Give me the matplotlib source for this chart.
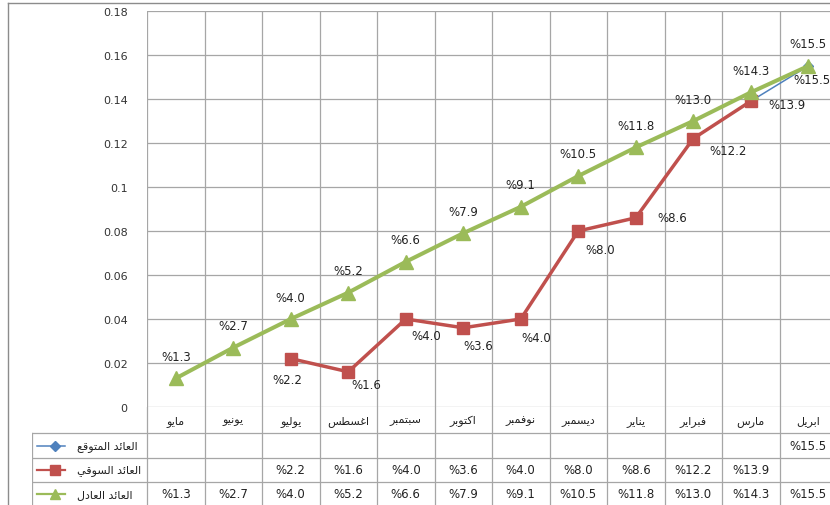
import numpy as np
import matplotlib
matplotlib.use('Agg')
import matplotlib.pyplot as plt
from matplotlib.lines import Line2D

plt.rcParams['font.family'] = ['DejaVu Sans']

# data
months = ['مايو', 'يونيو', 'يوليو', 'اغسطس', 'سبتمبر', 'اكتوبر',
          'نوفمبر', 'ديسمبر', 'يناير', 'فبراير', 'مارس', 'ابريل']
series_names = ['العائد المتوقع', 'العائد السوقي', 'العائد العادل']
expected = [np.nan] * 10 + [0.139, 0.155]
market = [np.nan, np.nan, 0.022, 0.016, 0.040, 0.036, 0.040, 0.080, 0.086, 0.122, 0.139, np.nan]
fair = [0.013, 0.027, 0.040, 0.052, 0.066, 0.079, 0.091, 0.105, 0.118, 0.130, 0.143, 0.155]
yticks = [0, 0.02, 0.04, 0.06, 0.08, 0.1, 0.12, 0.14, 0.16, 0.18]

# label offsets in pixels (dx, dy)
fair_offsets = [(0, 22)] * 11 + [(4, -13)]
market_offsets = [None, None, (-3, -21), (18, -13), (20, -17), (15, -18), (15, -18),
                  (22, -18), (36, 0), (35, -12), (36, -3), None]

blue = '#4F81BD'
red = '#C0504D'
green = '#9BBB59'
gridc = '#A6A6A6'

# --- crude arabic shaping (matplotlib has no text shaping) ---
FORMS = {
    'ا': ('\uFE8D', '\uFE8E', None, None),
    'ب': ('\uFE8F', '\uFE90', '\uFE91', '\uFE92'),
    'ت': ('\uFE95', '\uFE96', '\uFE97', '\uFE98'),
    'د': ('\uFEA9', '\uFEAA', None, None),
    'ر': ('\uFEAD', '\uFEAE', None, None),
    'س': ('\uFEB1', '\uFEB2', '\uFEB3', '\uFEB4'),
    'ط': ('\uFEC1', '\uFEC2', '\uFEC3', '\uFEC4'),
    'ع': ('\uFEC9', '\uFECA', '\uFECB', '\uFECC'),
    'غ': ('\uFECD', '\uFECE', '\uFECF', '\uFED0'),
    'ف': ('\uFED1', '\uFED2', '\uFED3', '\uFED4'),
    'ق': ('\uFED5', '\uFED6', '\uFED7', '\uFED8'),
    'ك': ('\uFED9', '\uFEDA', '\uFEDB', '\uFEDC'),
    'ل': ('\uFEDD', '\uFEDE', '\uFEDF', '\uFEE0'),
    'م': ('\uFEE1', '\uFEE2', '\uFEE3', '\uFEE4'),
    'ن': ('\uFEE5', '\uFEE6', '\uFEE7', '\uFEE8'),
    'و': ('\uFEED', '\uFEEE', None, None),
    'ي': ('\uFEF1', '\uFEF2', '\uFEF3', '\uFEF4'),
    'ئ': ('\uFE89', '\uFE8A', '\uFE8B', '\uFE8C'),
}


def shape_ar(text):
    out = []
    for i, ch in enumerate(text):
        if ch not in FORMS:
            out.append(ch)
            continue
        prev = text[i - 1] if i > 0 else ''
        nxt = text[i + 1] if i < len(text) - 1 else ''
        join_prev = prev in FORMS and FORMS[prev][2] is not None
        join_next = nxt in FORMS and FORMS[ch][2] is not None
        iso, fin, ini, med = FORMS[ch]
        if join_prev and join_next:
            out.append(med)
        elif join_prev:
            out.append(fin)
        elif join_next:
            out.append(ini)
        else:
            out.append(iso)
    return ''.join(out)[::-1]


def pct(v):
    return '%' + f'{v * 100:.1f}'


W, H = 830, 506
fig = plt.figure(figsize=(W / 100, H / 100), dpi=100)

# plot area in pixels: x 147..837, y 12..408
ax = fig.add_axes([147 / W, (H - 408) / H, 690 / W, 396 / H])
x = np.arange(len(months)) + 0.5

ax.plot(x, expected, color=blue, lw=1.1, marker='D', ms=5, zorder=3)
ax.plot(x, market, color=red, lw=2.5, marker='s', ms=9, zorder=4)
ax.plot(x, fair, color=green, lw=2.9, marker='^', ms=10, zorder=5)

for i, v in enumerate(fair):
    dx, dy = fair_offsets[i]
    ax.annotate(pct(v), (x[i], v), xytext=(dx, dy), textcoords='offset pixels',
                ha='center', va='center', fontsize=8.5, color='#222222', zorder=6)
for i, v in enumerate(market):
    if market_offsets[i] is None:
        continue
    dx, dy = market_offsets[i]
    ax.annotate(pct(v), (x[i], v), xytext=(dx, dy), textcoords='offset pixels',
                ha='center', va='center', fontsize=8.5, color='#222222', zorder=6)
ax.annotate(pct(expected[-1]), (x[-1], expected[-1]), xytext=(0, 22), textcoords='offset pixels',
            ha='center', va='center', fontsize=8.5, color='#222222', zorder=6)

ax.set_xlim(0, 12)
ax.set_ylim(0, 0.18)
ax.set_xticks(np.arange(13))
ax.set_xticklabels([])
ax.set_yticks(yticks)
ax.set_yticklabels([f'{t:g}' for t in yticks], fontsize=8, color='#333333')
ax.tick_params(length=0, pad=14)
ax.grid(True, color=gridc, lw=0.9)
for s in ax.spines.values():
    s.set_visible(False)

# data table below the plot: x same units as main axes, y in pixels below y=408
tab = fig.add_axes([32 / W, (H - 507) / H, 805 / W, 99 / H])
tab.set_xlim(-2, 12)
tab.set_ylim(99, 0)
tab.axis('off')
rows = [0, 26, 51, 75, 99]
for r in rows[1:]:
    tab.plot([-2, 12], [r, r], color=gridc, lw=0.9)
for k in range(13):
    tab.plot([k, k], [0, 99], color=gridc, lw=0.9)
tab.plot([-2, -2], [26, 99], color=gridc, lw=0.9)

for i, m in enumerate(months):
    tab.text(x[i], 13.5, shape_ar(m), ha='center', va='center', fontsize=8, color='#222222')

row_y = [38.5, 63, 87]
styles = [(blue, 'D', 5, 1.1), (red, 's', 7, 1.6), (green, '^', 7, 1.6)]
for j, name in enumerate(series_names):
    c, mk, ms, lw = styles[j]
    tab.plot([-1.91, -1.43], [row_y[j], row_y[j]], color=c, lw=lw)
    tab.plot([-1.6], [row_y[j]], color=c, marker=mk, ms=ms)
    tab.text(-1.22, row_y[j], shape_ar(name), ha='left', va='center', fontsize=8, color='#222222')

tab.text(x[-1], row_y[0], pct(expected[-1]), ha='center', va='center', fontsize=8.5, color='#222222')
for i, v in enumerate(market):
    if not np.isnan(v):
        tab.text(x[i], row_y[1], pct(v), ha='center', va='center', fontsize=8.5, color='#222222')
for i, v in enumerate(fair):
    tab.text(x[i], row_y[2], pct(v), ha='center', va='center', fontsize=8.5, color='#222222')

# outer chart border (left and top)
fig.add_artist(Line2D([8 / W, 8 / W], [0, 1 - 4 / H], transform=fig.transFigure, color='#8C8C8C', lw=1))
fig.add_artist(Line2D([8 / W, 1], [1 - 4 / H, 1 - 4 / H], transform=fig.transFigure, color='#8C8C8C', lw=1))

fig.savefig('out.png', dpi=100)
